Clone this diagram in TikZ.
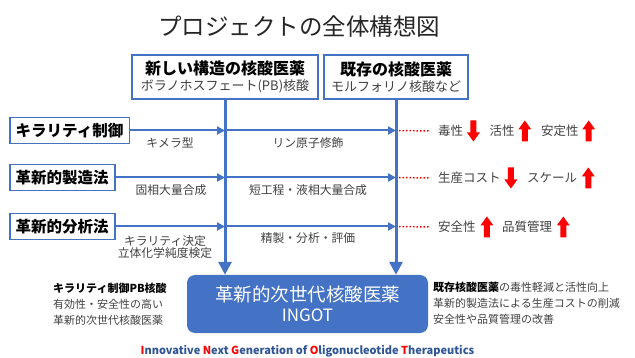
\documentclass[tikz,border=0pt]{standalone}
\usepackage{fontspec}
\setmainfont{Noto Sans CJK JP}
\usetikzlibrary{arrows.meta, positioning}

\definecolor{pptblue}{HTML}{4472C4}
\definecolor{darktext}{HTML}{404040}
\definecolor{ingotblue}{HTML}{2F5597}

\newcommand{\fs}[1]{\fontsize{#1}{#1}\selectfont}

\tikzset{
  headbox/.style={draw=pptblue, line width=1.5pt, fill=white, align=center, inner sep=0pt, minimum height=44pt},
  techbox/.style={draw=pptblue, line width=1.5pt, fill=white, font=\fs{15.5}\bfseries, inner xsep=6pt, inner ysep=0pt, minimum height=26pt, anchor=west},
  flow/.style={draw=pptblue, line width=2pt, -{Triangle[length=8pt,width=8pt]}},
  trunk/.style={draw=pptblue, line width=3pt, -{Triangle[length=13pt,width=13pt]}},
  method/.style={text=darktext, font=\fs{11.8}, inner sep=0pt, align=center},
  effect/.style={text=darktext, font=\fs{12.5}, inner sep=0pt},
  hint/.style={draw=red, line width=1.5pt, dotted},
  upmark/.pic={\fill[red] (-3,10.5) -- (-3,-1.5) -- (-6.5,-1.5) -- (0,-10.5) -- (6.5,-1.5) -- (3,-1.5) -- (3,10.5) -- cycle;},
  downmark/.pic={\fill[red] (-3,-10.5) -- (-3,1.5) -- (-6.5,1.5) -- (0,10.5) -- (6.5,1.5) -- (3,1.5) -- (3,-10.5) -- cycle;},
}

\begin{document}
\begin{tikzpicture}[x=1pt, y=-1pt, node distance=26pt]
    \useasboundingbox (0,0) rectangle (635,358);

    % Title
    \node (title) [text=black!85, font=\fs{23.5}] at (299,27) {プロジェクトの全体構想図};

    % Two kinds of nucleic acid drugs
    \node (newbox) [headbox, minimum width=186pt] at (225,77)
        {{\fs{16}\bfseries 新しい構造の核酸医薬}\\[3pt]{\fs{13}\color{darktext}ボラノホスフェート(PB)核酸}};
    \node (oldbox) [headbox, minimum width=144pt] at (396,77)
        {{\fs{16}\bfseries 既存の核酸医薬}\\[3pt]{\fs{13}\color{darktext}モルフォリノ核酸など}};

    % Goal
    \node (ingot) [fill=pptblue, rounded corners=8pt, minimum width=241pt, minimum height=58pt, text=white, align=center, inner sep=0pt] at (307.5,304)
        {{\fs{18.5}革新的次世代核酸医薬}\\[5pt]{\fs{17}INGOT}};

    % Technologies
    \node (kira) [techbox] at (9,130.5) {キラリティ制御};
    \node (seizo) [techbox] at (9,177.5) {革新的製造法};
    \node (bunseki) [techbox] at (9,226.5) {革新的分析法};

    % Trunk arrows
    \draw[trunk] (newbox.south) -- (newbox.south |- ingot.north);
    \draw[trunk] (oldbox.south) -- (oldbox.south |- ingot.north);

    % Flow arrows
    \draw[flow] (kira.east) -- (kira.east -| newbox.south);
    \draw[flow] (seizo.east) -- (seizo.east -| newbox.south);
    \draw[flow] (bunseki.east) -- (bunseki.east -| newbox.south);
    \draw[flow] (kira.east -| newbox.south) -- (kira.east -| oldbox.south);
    \draw[flow] (seizo.east -| newbox.south) -- (seizo.east -| oldbox.south);
    \draw[flow] (bunseki.east -| newbox.south) -- (bunseki.east -| oldbox.south);

    % Method labels
    \node (chimera) [method] at (170,143) {キメラ型};
    \node (solid) [method] at (171,190) {固相大量合成};
    \node (chiral) [method] at (165,247) {キラリティ決定\\[1pt]立体化学純度検定};
    \node (phos) [method] at (308,143) {リン原子修飾};
    \node (liquid) [method] at (308,190) {短工程・液相大量合成};
    \node (purify) [method] at (308,238) {精製・分析・評価};

    % Effects
    \node (doku) [effect, anchor=west] at (438,131) {毒性};
    \node (katsu) [effect, right=of doku] {活性};
    \node (antei) [effect, right=of katsu] {安定性};
    \node (seisan) [effect, anchor=west] at (438,178) {生産コスト};
    \node (scale) [effect, right=of seisan] {スケール};
    \node (anzen) [effect, anchor=west] at (438,227) {安全性};
    \node (hinshitsu) [effect, right=of anzen] {品質管理};

    \pic at ([xshift=10pt]doku.east) {downmark};
    \pic at ([xshift=10pt]katsu.east) {upmark};
    \pic at ([xshift=10pt]antei.east) {upmark};
    \pic at ([xshift=10pt]seisan.east) {downmark};
    \pic at ([xshift=11pt]scale.east) {upmark};
    \pic at ([xshift=11pt]anzen.east) {upmark};
    \pic at ([xshift=11pt]hinshitsu.east) {upmark};

    \draw[hint] ([xshift=3pt]kira.east -| oldbox.south) -- ([xshift=-9pt]doku.west);
    \draw[hint] ([xshift=3pt]seizo.east -| oldbox.south) -- ([xshift=-9pt]seisan.west);
    \draw[hint] ([xshift=3pt]bunseki.east -| oldbox.south) -- ([xshift=-9pt]anzen.west);

    % Notes beside the goal
    \node (newnote) [anchor=west, align=left, inner sep=0pt, text=darktext, font=\fontsize{11}{16}\selectfont] at (53,304)
        {\textcolor{black}{\bfseries キラリティ制御PB核酸}\\有効性・安全性の高い\\革新的次世代核酸医薬};
    \node (oldnote) [anchor=west, align=left, inner sep=0pt, text=darktext, font=\fontsize{11}{16}\selectfont] at (433,303)
        {\textcolor{black}{\bfseries 既存核酸医薬}の毒性軽減と活性向上\\革新的製造法による生産コストの削減\\安全性や品質管理の改善};

    % Acronym
    \node (acronym) [text=ingotblue, font=\fs{11}\bfseries, inner sep=0pt] at (307.5,351)
        {\textcolor{red}{I}nnovative \textcolor{red}{N}ext \textcolor{red}{G}eneration of \textcolor{red}{O}ligonucleotide \textcolor{red}{T}herapeutics};

\end{tikzpicture}
\end{document}
